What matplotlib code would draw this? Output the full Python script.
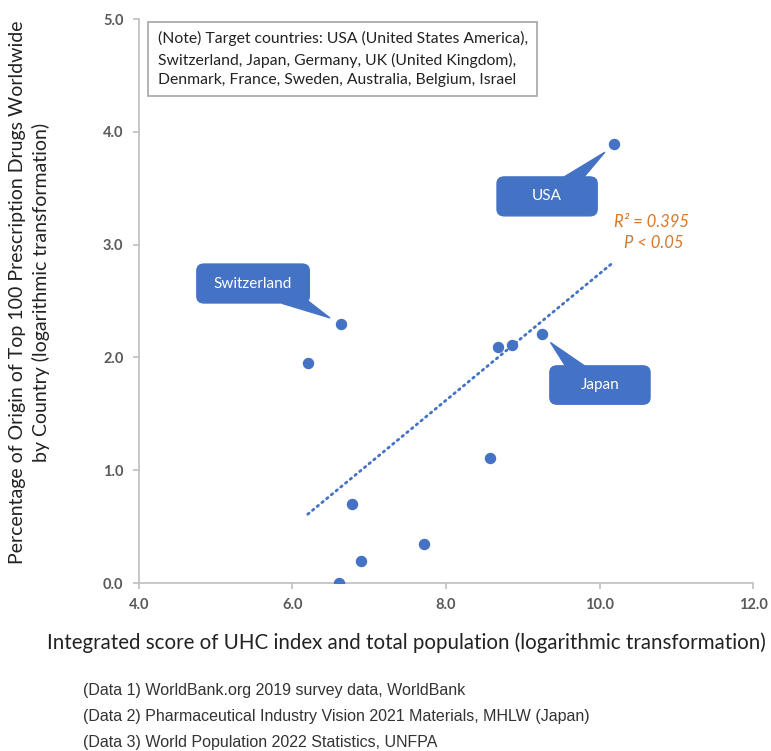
import numpy as np
import matplotlib.pyplot as plt
from matplotlib.patches import FancyBboxPatch

# UHC/population score (x) vs share of top-100 drugs (y), log transformed
countries = ["USA", "Switzerland", "Japan", "Germany", "UK", "Denmark",
             "France", "Sweden", "Australia", "Belgium", "Israel"]
x_score = [10.19, 6.63, 9.25, 8.86, 8.68, 6.20, 8.57, 6.78, 7.71, 6.89, 6.61]
y_share = [3.89, 2.30, 2.21, 2.11, 2.09, 1.95, 1.11, 0.70, 0.35, 0.195, 0.0]

x_ticks = [4.0, 6.0, 8.0, 10.0, 12.0]
y_ticks = [0.0, 1.0, 2.0, 3.0, 4.0, 5.0]

note = ("(Note) Target countries: USA (United States America),\n"
        "Switzerland, Japan, Germany, UK (United Kingdom),\n"
        "Denmark, France, Sweden, Australia, Belgium, Israel")
sources = ["(Data 1) WorldBank.org 2019 survey data, WorldBank",
           "(Data 2) Pharmaceutical Industry Vision 2021 Materials, MHLW (Japan)",
           "(Data 3) World Population 2022 Statistics, UNFPA"]

blue = "#4472C4"
orange = "#D9772B"
grey = "#BFBFBF"
main_font = ["Lato", "DejaVu Sans"]
narrow_font = ["Liberation Sans Narrow", "Liberation Sans", "DejaVu Sans"]

fig = plt.figure(figsize=(7.71, 7.51), dpi=100)
ax = fig.add_axes([0.180, 0.2237, 0.797, 0.751])

ax.scatter(x_score, y_share, s=52, color=blue, zorder=3)

# linear trend over the data range
coef = np.polyfit(x_score, y_share, 1)
xs = np.array([min(x_score), max(x_score)])
ax.plot(xs, np.polyval(coef, xs), color=blue, lw=2, linestyle=(0, (0.6, 1.6)),
        dash_capstyle="round", zorder=2)

ax.set_xlim(4, 12)
ax.set_ylim(0, 5)
ax.set_xticks(x_ticks)
ax.set_yticks(y_ticks)
ax.set_xticklabels([f"{v:.1f}" for v in x_ticks])
ax.set_yticklabels([f"{v:.1f}" for v in y_ticks])
for s in ["top", "right"]:
    ax.spines[s].set_visible(False)
for s in ["left", "bottom"]:
    ax.spines[s].set_color(grey)
    ax.spines[s].set_linewidth(1.2)
ax.tick_params(colors=grey, length=4, width=1.2, labelcolor="#595959",
               labelsize=10.5, pad=7)
for lbl in ax.get_xticklabels() + ax.get_yticklabels():
    lbl.set_family(main_font)
    lbl.set_fontweight("bold")

ax.set_ylabel("Percentage of Origin of Top 100 Prescription Drugs Worldwide\n"
              "by Country (logarithmic transformation)",
              fontsize=14, family=main_font, color="#222222",
              linespacing=1.35)
ax.yaxis.set_label_coords(-0.145, 0.515)

fig.text(0.527, 0.144,
         "Integrated score of UHC index and total population (logarithmic transformation)",
         ha="center", va="center", fontsize=14.8, family=main_font, color="#222222")

ax.text(0.031, 0.978, note, transform=ax.transAxes, ha="left", va="top",
        fontsize=11.3, family=main_font, linespacing=1.5, color="#222222",
        bbox=dict(boxstyle="square,pad=0.6", fc="white", ec="#A6A6A6", lw=1.2))

ax.text(10.68, 3.2, "R² = 0.395", color=orange, style="italic", fontsize=12,
        family=main_font, ha="center", va="center")
ax.text(10.70, 3.01, "P < 0.05", color=orange, style="italic", fontsize=12,
        family=main_font, ha="center", va="center")

# callouts: (label, index of point, box in axes fraction, wedge tail in axes fraction)
callouts = [
    ("Switzerland", 1, (0.0945, 0.4965, 0.183, 0.069), (0.24, 0.51)),
    ("USA", 0, (0.583, 0.651, 0.163, 0.069), (0.69, 0.70)),
    ("Japan", 2, (0.669, 0.317, 0.163, 0.068), (0.72, 0.37)),
]
for name, i, (bx, by, bw, bh), tail in callouts:
    ax.annotate("", xy=(x_score[i], y_share[i]), xytext=tail,
                textcoords="axes fraction",
                arrowprops=dict(arrowstyle="wedge,tail_width=1.3", fc=blue,
                                ec=blue, shrinkA=0, shrinkB=9,
                                mutation_scale=10), zorder=4)
    ax.add_patch(FancyBboxPatch((bx, by), bw, bh, transform=ax.transAxes,
                                boxstyle="round,pad=0,rounding_size=0.012",
                                fc=blue, ec=blue, zorder=5))
    ax.text(bx + bw / 2, by + bh / 2, name, transform=ax.transAxes,
            ha="center", va="center", color="white", fontsize=11,
            family=main_font, zorder=6)

for k, line in enumerate(sources):
    fig.text(0.108, 0.081 - k * 0.035, line, ha="left", va="center",
             fontsize=11.5, family=narrow_font, color="#333333")

fig.savefig("out.png", dpi=100)
